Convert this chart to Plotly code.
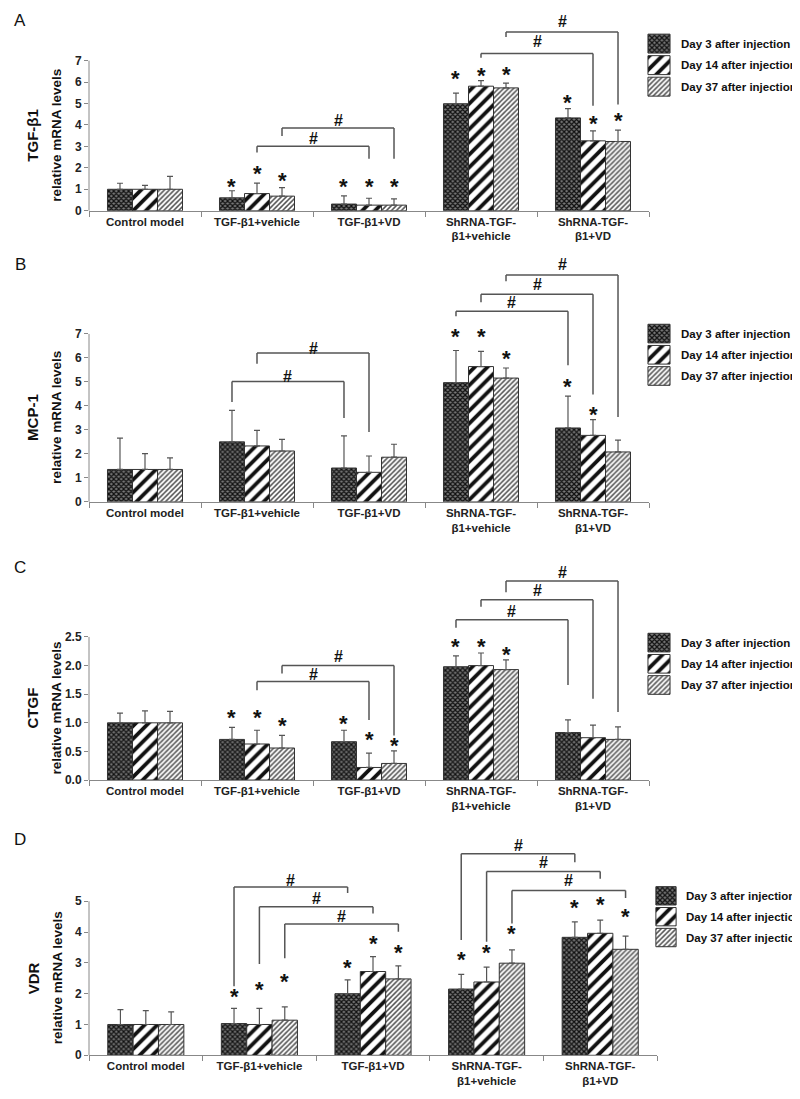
import plotly.graph_objects as go

# ---------------- data ----------------
categories = ["Control model", "TGF-β1+vehicle", "TGF-β1+VD",
              "ShRNA-TGF-<br>β1+vehicle", "ShRNA-TGF-<br>β1+VD"]
series_names = ["Day 3 after injection", "Day 14 after injection", "Day 37 after injection"]

# Panel A : TGF-β1
tgf_day3 = [1.00, 0.60, 0.31, 4.99, 4.33]
tgf_day14 = [1.00, 0.80, 0.26, 5.81, 3.26]
tgf_day37 = [1.00, 0.68, 0.26, 5.73, 3.23]
tgf_err3 = [0.28, 0.33, 0.38, 0.50, 0.43]
tgf_err14 = [0.18, 0.49, 0.32, 0.26, 0.46]
tgf_err37 = [0.60, 0.40, 0.29, 0.22, 0.53]
tgf_star3 = [None, 1.41, 1.41, 6.46, 5.33]
tgf_star14 = [None, 2.01, 1.41, 6.58, 4.37]
tgf_star37 = [None, 1.70, 1.41, 6.65, 4.48]
# brackets: (group_left, day_left, y_left, y_top, group_right, day_right, y_right, y_hash)
tgf_brackets = [(1, 1, 2.72, 3.01, 2, 1, 2.42, 3.35),
                (1, 2, 3.48, 3.86, 2, 2, 2.42, 4.20),
                (3, 1, 7.14, 7.33, 4, 1, 4.90, 7.90),
                (3, 2, 8.10, 8.34, 4, 2, 4.96, 8.85)]

# Panel B : MCP-1
mcp_day3 = [1.35, 2.50, 1.41, 4.97, 3.08]
mcp_day14 = [1.35, 2.33, 1.23, 5.64, 2.77]
mcp_day37 = [1.35, 2.12, 1.86, 5.16, 2.08]
mcp_err3 = [1.31, 1.31, 1.34, 1.34, 1.33]
mcp_err14 = [0.66, 0.65, 0.68, 0.63, 0.66]
mcp_err37 = [0.48, 0.48, 0.54, 0.42, 0.49]
mcp_star3 = [None, None, None, 7.14, 5.06]
mcp_star14 = [None, None, None, 7.14, 3.88]
mcp_star37 = [None, None, None, 6.24, None]
mcp_brackets = [(1, 0, 4.16, 5.02, 2, 0, 3.50, 5.24),
                (1, 1, 5.76, 6.21, 2, 1, 2.91, 6.41),
                (3, 0, 7.74, 7.95, 4, 0, 5.69, 8.29),
                (3, 1, 8.32, 8.65, 4, 1, 4.47, 9.06),
                (3, 2, 9.20, 9.46, 4, 2, 3.54, 9.88)]

# Panel C : CTGF
ctgf_day3 = [1.00, 0.71, 0.67, 1.98, 0.83]
ctgf_day14 = [1.00, 0.63, 0.22, 2.00, 0.74]
ctgf_day37 = [1.00, 0.56, 0.29, 1.93, 0.71]
ctgf_err3 = [0.17, 0.21, 0.20, 0.19, 0.22]
ctgf_err14 = [0.21, 0.24, 0.25, 0.22, 0.22]
ctgf_err37 = [0.20, 0.22, 0.22, 0.17, 0.22]
ctgf_star3 = [None, 1.19, 1.10, 2.43, None]
ctgf_star14 = [None, 1.19, 0.81, 2.43, None]
ctgf_star37 = [None, 1.06, 0.70, 2.30, None]
ctgf_brackets = [(1, 1, 1.57, 1.72, 2, 1, 1.05, 1.85),
                 (1, 2, 1.86, 2.00, 2, 2, 0.78, 2.16),
                 (3, 0, 2.66, 2.80, 4, 0, 1.66, 2.95),
                 (3, 1, 3.03, 3.15, 4, 1, 1.42, 3.31),
                 (3, 2, 3.28, 3.48, 4, 2, 1.19, 3.63)]

# Panel D : VDR
vdr_day3 = [1.00, 1.03, 2.00, 2.15, 3.83]
vdr_day14 = [1.00, 1.00, 2.72, 2.38, 3.96]
vdr_day37 = [1.00, 1.14, 2.48, 2.99, 3.44]
vdr_err3 = [0.48, 0.49, 0.45, 0.48, 0.50]
vdr_err14 = [0.45, 0.52, 0.48, 0.48, 0.43]
vdr_err37 = [0.41, 0.43, 0.42, 0.43, 0.43]
vdr_star3 = [None, 2.10, 3.06, 3.31, 5.00]
vdr_star14 = [None, 2.34, 3.83, 3.52, 5.09]
vdr_star37 = [None, 2.58, 3.53, 4.14, 4.71]
vdr_brackets = [(1, 0, 2.24, 5.46, 2, 0, 5.27, 5.68),
                (1, 1, 2.96, 4.82, 2, 1, 4.60, 5.09),
                (1, 2, 3.15, 4.26, 2, 2, 4.01, 4.49),
                (3, 0, 3.74, 6.54, 4, 0, 6.27, 6.81),
                (3, 1, 3.69, 5.97, 4, 1, 5.73, 6.25),
                (3, 2, 4.28, 5.35, 4, 2, 5.11, 5.68)]

# ---------------- layout config (pixels) ----------------
W, H = 800, 1099
panels = [
    dict(letter="A", gene="TGF-β1", vals=[tgf_day3, tgf_day14, tgf_day37],
         errs=[tgf_err3, tgf_err14, tgf_err37], stars=[tgf_star3, tgf_star14, tgf_star37],
         brackets=tgf_brackets, tickvals=[0, 1, 2, 3, 4, 5, 6, 7], fmt="{:d}",
         x0=81, x1=641, ptop=5, pzero=204, ppu=21.57,
         lx0=639, lx1=663, ly0=25, ly1=90, tx=671, lety=13),
    dict(letter="B", gene="MCP-1", vals=[mcp_day3, mcp_day14, mcp_day37],
         errs=[mcp_err3, mcp_err14, mcp_err37], stars=[mcp_star3, mcp_star14, mcp_star37],
         brackets=mcp_brackets, tickvals=[0, 1, 2, 3, 4, 5, 6, 7], fmt="{:d}",
         x0=81, x1=641, ptop=250, pzero=497, ppu=24.14,
         lx0=639, lx1=663, ly0=317, ly1=381, tx=671, lety=258),
    dict(letter="C", gene="CTGF", vals=[ctgf_day3, ctgf_day14, ctgf_day37],
         errs=[ctgf_err3, ctgf_err14, ctgf_err37], stars=[ctgf_star3, ctgf_star14, ctgf_star37],
         brackets=ctgf_brackets, tickvals=[0, 0.5, 1.0, 1.5, 2.0, 2.5], fmt="{:.1f}",
         x0=81, x1=641, ptop=562, pzero=777, ppu=57.6,
         lx0=639, lx1=663, ly0=628, ly1=692, tx=671, lety=563),
    dict(letter="D", gene="VDR", vals=[vdr_day3, vdr_day14, vdr_day37],
         errs=[vdr_err3, vdr_err14, vdr_err37], stars=[vdr_star3, vdr_star14, vdr_star37],
         brackets=vdr_brackets, tickvals=[0, 1, 2, 3, 4, 5], fmt="{:d}",
         x0=81, x1=649, ptop=836, pzero=1054, ppu=31.0,
         lx0=647, lx1=669, ly0=883, ly1=946, tx=676, lety=837),
]

SANS = "Liberation Sans, Arial, sans-serif"
AXIS_COLOR = "#888888"
BW = 0.2233  # bar width in category units

patterns = [
    dict(shape="x", size=3.5, solidity=0.6, fgcolor="#111111", bgcolor="#7a7a7a", fillmode="replace"),
    dict(shape="/", size=9, solidity=0.42, fgcolor="#111111", bgcolor="#ffffff", fillmode="replace"),
    dict(shape="/", size=3.5, solidity=0.45, fgcolor="#555555", bgcolor="#ffffff", fillmode="replace"),
]


def py(px):
    return 1 - px / H


fig = go.Figure()
layout = {}
annotations = []
shapes = []

for i, p in enumerate(panels):
    n = i + 1
    m = i + 5
    xs = "" if n == 1 else str(n)
    xa, ya = "x" + xs, "y" + xs
    rmax = (p["pzero"] - p["ptop"]) / p["ppu"]
    top_tick = p["tickvals"][-1]

    layout["xaxis" + xs] = dict(
        domain=[p["x0"] / W, p["x1"] / W], anchor=ya, type="category",
        categoryorder="array", categoryarray=categories,
        tickson="boundaries", ticks="outside", ticklen=5, tickcolor=AXIS_COLOR,
        showline=True, linecolor=AXIS_COLOR, linewidth=1, showgrid=False,
        zeroline=False, range=[-0.5, 4.5],
        tickfont=dict(family=SANS, size=11.5, color="#222222", weight="bold"))
    layout["yaxis" + xs] = dict(
        domain=[py(p["pzero"]), py(p["ptop"])], anchor=xa, range=[0, rmax],
        tickvals=p["tickvals"], ticktext=[p["fmt"].format(v) for v in p["tickvals"]],
        ticks="outside", ticklen=4, tickcolor=AXIS_COLOR, showline=False,
        showgrid=False, zeroline=False,
        tickfont=dict(family=SANS, size=12, color="#222222", weight="bold"))

    # visible y-axis line only up to the top tick
    shapes.append(dict(type="line", xref=xa + " domain", yref=ya + " domain",
                       x0=0, x1=0, y0=0, y1=top_tick / rmax,
                       line=dict(color=AXIS_COLOR, width=1)))

    for k in range(3):
        fig.add_trace(go.Bar(
            x=categories, y=p["vals"][k], width=BW, offset=(k - 1.5) * BW,
            xaxis=xa, yaxis=ya, showlegend=False, name=series_names[k],
            marker=dict(pattern=patterns[k], line=dict(color="#333333", width=1)),
            error_y=dict(type="data", array=p["errs"][k], arrayminus=[0] * 5,
                         symmetric=False, color="#555555", thickness=1.2, width=3)))
        for g, sy in enumerate(p["stars"][k]):
            if sy is None:
                continue
            annotations.append(dict(x=g + (k - 1) * BW, y=sy, xref=xa, yref=ya,
                                    text="*", showarrow=False, yshift=-6,
                                    font=dict(family=SANS, size=22, color="#111111", weight="bold")))

    for (g1, d1, yl, yt, g2, d2, yr, yh) in p["brackets"]:
        xl = g1 + (d1 - 1) * BW
        xr = g2 + (d2 - 1) * BW
        bl = dict(color="#555555", width=1.5)
        shapes.append(dict(type="line", xref=xa, yref=ya, x0=xl, x1=xl, y0=yl, y1=yt, line=bl))
        shapes.append(dict(type="line", xref=xa, yref=ya, x0=xl, x1=xr, y0=yt, y1=yt, line=bl))
        shapes.append(dict(type="line", xref=xa, yref=ya, x0=xr, x1=xr, y0=yt, y1=yr, line=bl))
        annotations.append(dict(x=(xl + xr) / 2, y=yh, xref=xa, yref=ya, text="#",
                                showarrow=False,
                                font=dict(family=SANS, size=16, color="#111111", weight="bold")))

    # axis titles
    annotations.append(dict(x=25 / W, y=top_tick / 2, xref="paper", yref=ya, text=p["gene"],
                            textangle=-90, showarrow=False, xanchor="center", yanchor="middle",
                            font=dict(family=SANS, size=15, color="#111111", weight="bold")))
    annotations.append(dict(x=49 / W, y=top_tick / 2, xref="paper", yref=ya,
                            text="relative mRNA levels", textangle=-90, showarrow=False,
                            xanchor="center", yanchor="middle",
                            font=dict(family=SANS, size=13.5, color="#111111", weight="bold")))
    # panel letter
    annotations.append(dict(x=12 / W, y=py(p["lety"]), xref="paper", yref="paper",
                            text=p["letter"], showarrow=False, xanchor="center", yanchor="middle",
                            font=dict(family=SANS, size=17, color="#111111")))

    # legend swatches (own hidden axes)
    lxs = str(m)
    layout["xaxis" + lxs] = dict(domain=[p["lx0"] / W, p["lx1"] / W], anchor="y" + lxs,
                                 range=[0, 1], visible=False, fixedrange=True)
    layout["yaxis" + lxs] = dict(domain=[py(p["ly1"]), py(p["ly0"])], anchor="x" + lxs,
                                 range=[-0.5, 2.5], visible=False, fixedrange=True)
    for k in range(3):
        fig.add_trace(go.Bar(
            x=[0.92], y=[2 - k], base=[0.04], orientation="h", width=0.88,
            xaxis="x" + lxs, yaxis="y" + lxs, showlegend=False, name=series_names[k],
            marker=dict(pattern=patterns[k], line=dict(color="#333333", width=1))))
        annotations.append(dict(x=p["tx"] / W, y=2 - k, xref="paper", yref="y" + lxs,
                                text=series_names[k], showarrow=False, xanchor="left",
                                yanchor="middle",
                                font=dict(family=SANS, size=11.5, color="#111111", weight="bold")))

layout.update(dict(
    width=W, height=H, margin=dict(l=0, r=0, t=0, b=0),
    paper_bgcolor="white", plot_bgcolor="white", barmode="overlay",
    annotations=annotations, shapes=shapes, showlegend=False))
fig.update_layout(**layout)
fig.write_html("out.html")
